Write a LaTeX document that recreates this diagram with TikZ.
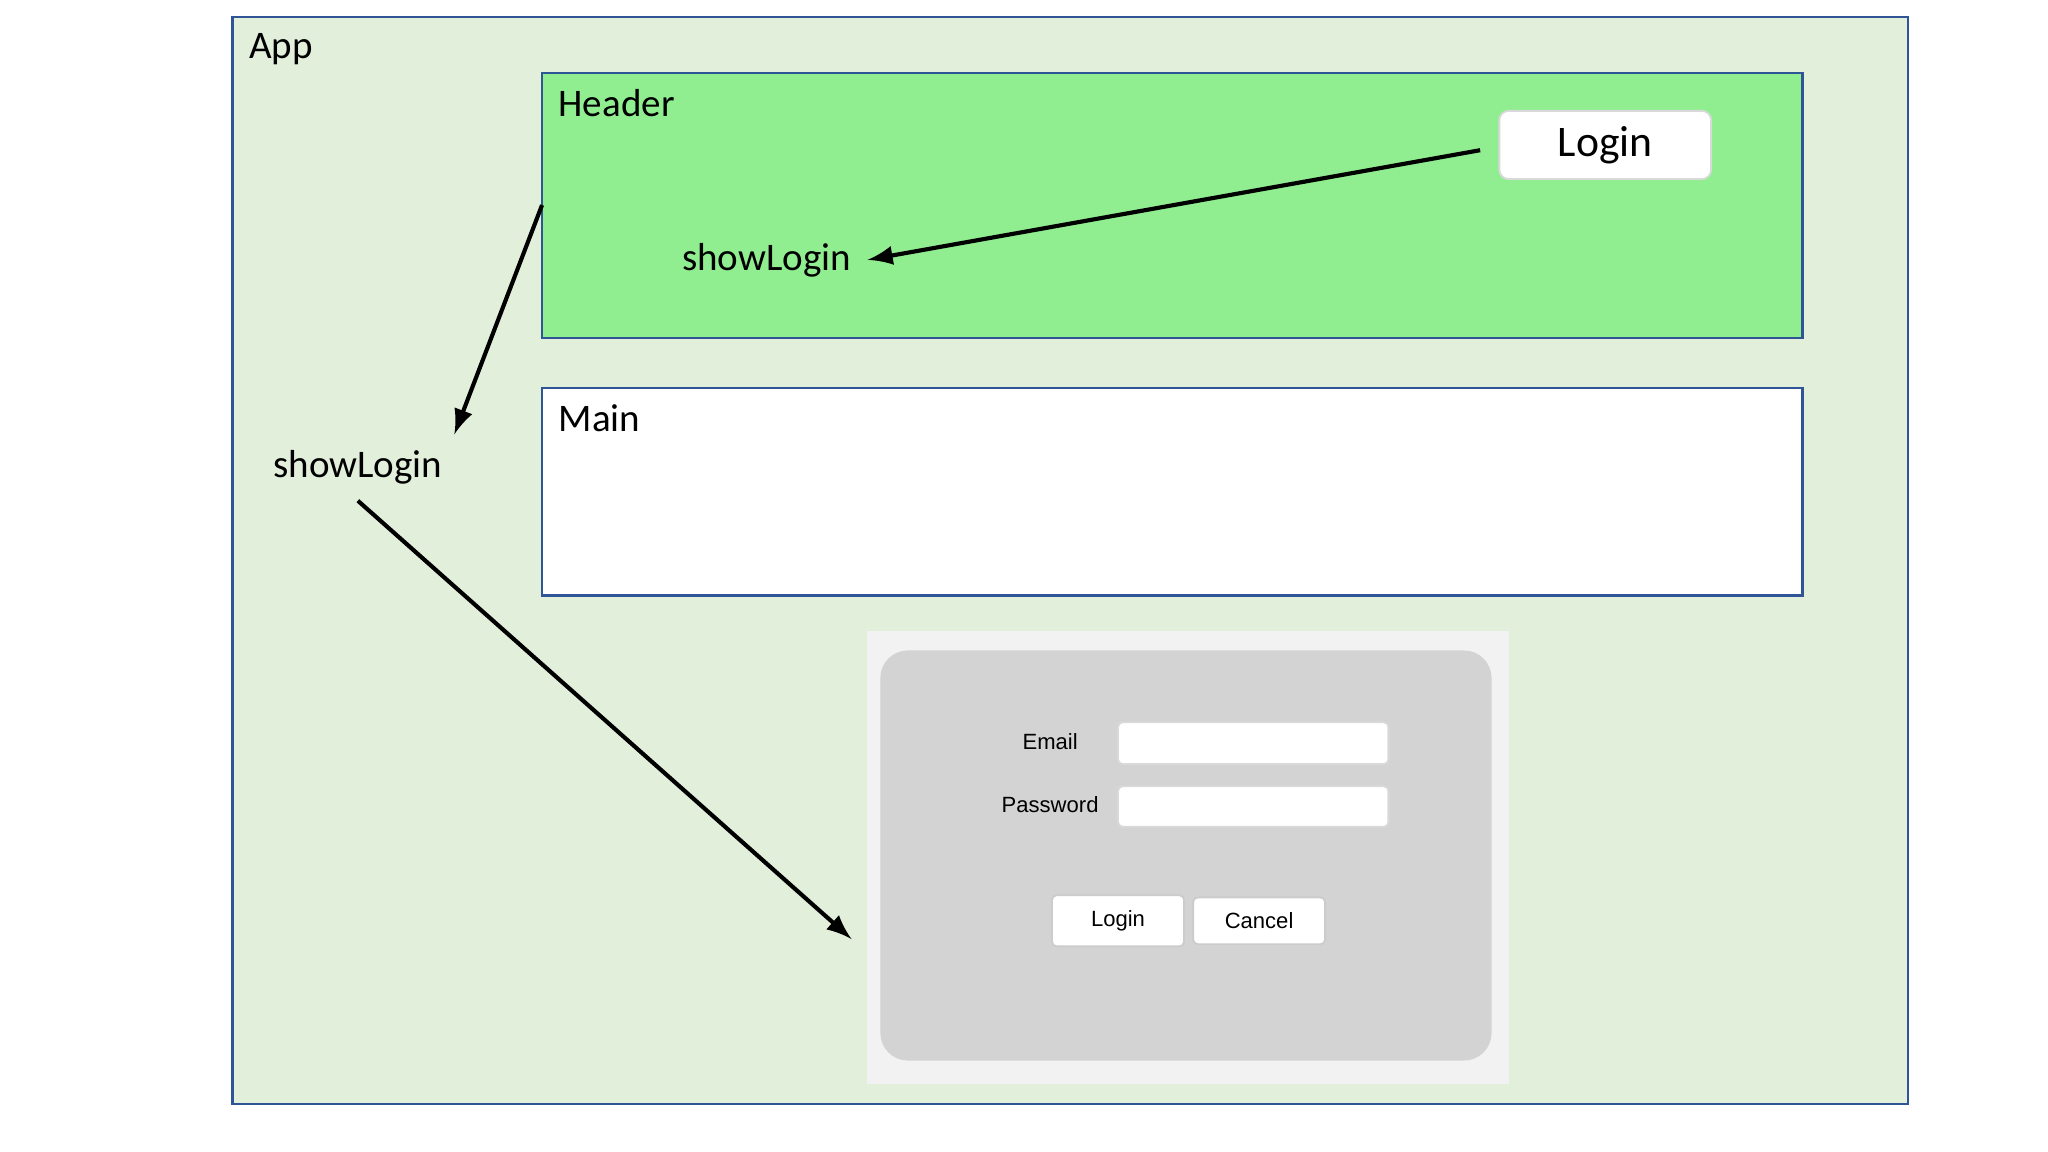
\documentclass[tikz,border=0pt]{standalone}
\usepackage{fontspec}
\setmainfont{Carlito}
\newfontfamily\arialfont{Liberation Sans}
\usepackage{tikz}
\definecolor{appgreen}{HTML}{E2EFDA}
\definecolor{hdrgreen}{HTML}{90EE90}
\definecolor{boxblue}{HTML}{2F5597}
\definecolor{dlggray}{HTML}{D3D3D3}
\tikzset{
  panel/.style={draw=boxblue, line width=0.5pt},
  lbl/.style={anchor=north west, inner sep=0pt, font=\fontsize{8.5}{10}\selectfont},
  field/.style={fill=white, draw=white!85!black, rounded corners=1pt},
  dlgbtn/.style={fill=white, draw=white!80!black, rounded corners=1pt, font=\arialfont\fontsize{4.8}{6}\selectfont},
  flow/.style={->, >=latex, line width=0.9pt}
}
\begin{document}
\begin{tikzpicture}[x=0.01cm, y=-0.01cm]
\useasboundingbox[fill=white] (0,0) rectangle (1568,882);
% App
\draw[panel, fill=appgreen] (178,13) rectangle (1461,845);
\node[lbl] (app) at (190,25) {App};
% Header
\draw[panel, fill=hdrgreen] (415,56) rectangle (1380,259);
\node[lbl] (header) at (427,68) {Header};
\node[draw=white!85!black, fill=white, rounded corners=2pt, minimum width=1.62cm, minimum height=0.46cm,
  font=\fontsize{9.5}{11}\selectfont] (loginbtn) at (1229,111) {Login};
\node[font=\fontsize{8.5}{10}\selectfont] (hdrshow) at (587,199) {showLogin};
% Main
\draw[panel, fill=white] (415,297) rectangle (1380,456);
\node[lbl] (main) at (427,309) {Main};
% App state
\node[font=\fontsize{8.5}{10}\selectfont] (appshow) at (274,358) {showLogin};
% Dialog
\fill[white!95!black] (664,483) rectangle (1155,830);
\fill[dlggray, rounded corners=6pt] (674,498) rectangle (1142,812);
\node[font=\arialfont\fontsize{4.8}{6}\selectfont] (email) at (804,568) {Email};
\node[font=\arialfont\fontsize{4.8}{6}\selectfont] (pwd) at (804,616) {Password};
\draw[field] (856,553) rectangle (1063,585);
\draw[field] (856,602) rectangle (1063,633);
\node[dlgbtn, minimum width=1.01cm, minimum height=0.29cm] (dlglogin) at (856,705) {Login};
\node[dlgbtn, minimum width=1.01cm, minimum height=0.29cm] (dlgcancel) at (964,705) {Cancel};
% Arrows
\coordinate (hdrleft) at (415,157);
\coordinate (dlgleft) at (652,719);
\draw[flow] (loginbtn.west) ++(-14,4) -- (hdrshow.east);
\draw[flow] (hdrleft) -- ([xshift=21pt]appshow.north);
\draw[flow] (appshow.south) -- (dlgleft);
\end{tikzpicture}
\end{document}
